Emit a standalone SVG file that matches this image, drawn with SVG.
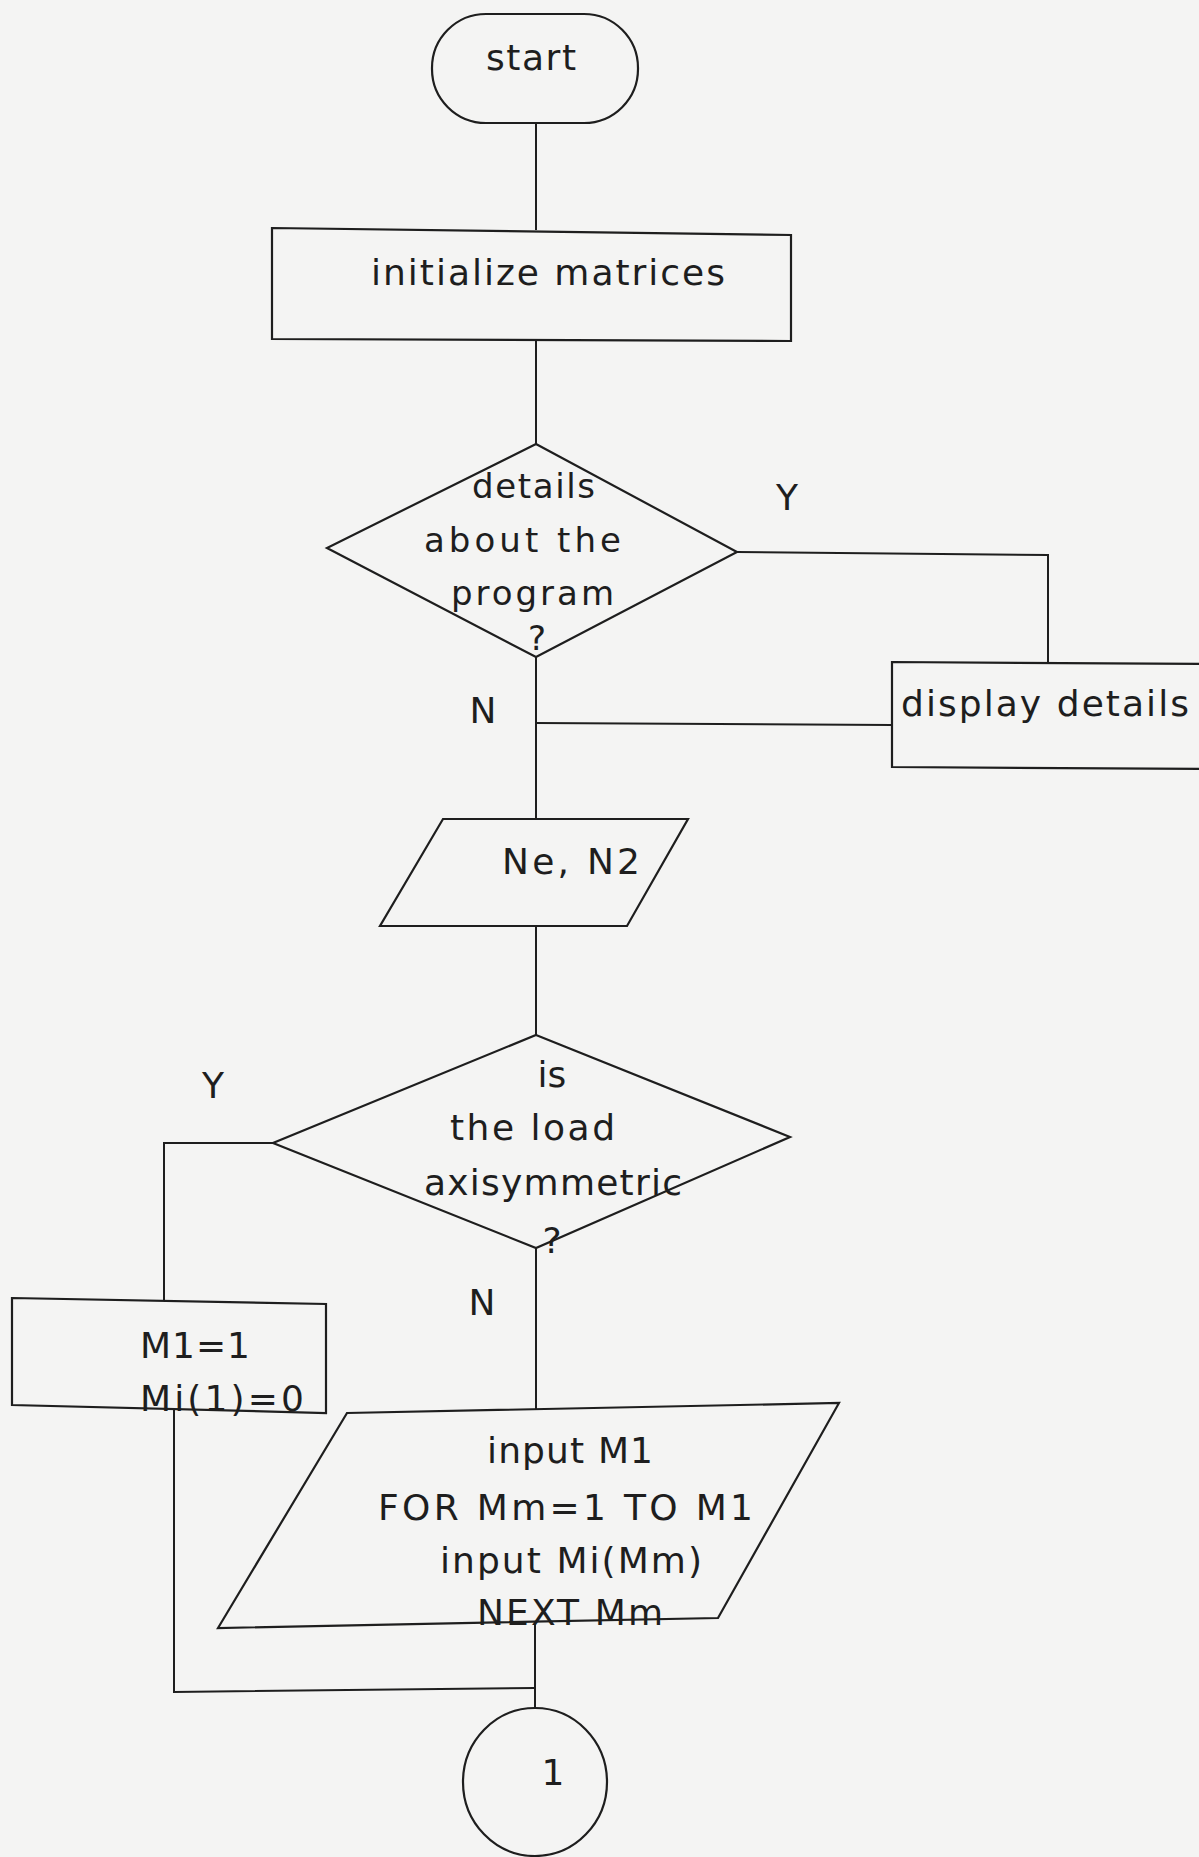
<svg xmlns="http://www.w3.org/2000/svg" width="1199" height="1857" viewBox="0 0 1199 1857">
<style>
.s{fill:none;stroke:#1e1e1e;stroke-width:2.2;stroke-linejoin:miter}
.c{fill:none;stroke:#1e1e1e;stroke-width:2}
text{font-family:"DejaVu Sans","Liberation Sans",sans-serif;fill:#1e1e1e;font-size:36px}
.sm{font-size:34px}
</style>
<rect x="0" y="0" width="1199" height="1857" fill="#f4f4f3"/>
<g id="connectors">
<polyline class="c" points="536,123 536,230"/>
<polyline class="c" points="536,340 536,444"/>
<polyline class="c" points="737,552 1048,555 1048,662"/>
<polyline class="c" points="892,725 536,723"/>
<polyline class="c" points="536,657 536,819"/>
<polyline class="c" points="536,926 536,1035"/>
<polyline class="c" points="273,1143 164,1143 164,1300"/>
<polyline class="c" points="536,1248 536,1409"/>
<polyline class="c" points="174,1410 174,1692 535,1688"/>
<polyline class="c" points="535,1622 535,1708"/>
<text x="787" y="510" text-anchor="middle">Y</text>
<text x="483" y="723" text-anchor="middle">N</text>
<text x="213" y="1098" text-anchor="middle">Y</text>
<text x="482" y="1315" text-anchor="middle">N</text>
</g>
<g id="start">
<rect class="s" x="432" y="14" width="206" height="109" rx="54" ry="54"/>
<text x="486" y="70" textLength="90" lengthAdjust="spacing">start</text>
</g>
<g id="init">
<polygon class="s" points="272,228 791,235 791,341 272,339"/>
<text x="371" y="285" textLength="354" lengthAdjust="spacing">initialize matrices</text>
</g>
<g id="decision1">
<polygon class="s" points="536,444 737,552 536,657 327,548"/>
<text class="sm" x="472" y="498" textLength="123" lengthAdjust="spacing">details</text>
<text class="sm" x="424" y="552" textLength="197" lengthAdjust="spacing">about the</text>
<text class="sm" x="451" y="605" textLength="163" lengthAdjust="spacing">program</text>
<text class="sm" x="537" y="650" text-anchor="middle">?</text>
</g>
<g id="display">
<polygon class="s" points="892,662 1210,664 1210,769 892,767"/>
<text x="901" y="716" textLength="288" lengthAdjust="spacing">display details</text>
</g>
<g id="input1">
<polygon class="s" points="443,819 688,819 627,926 380,926"/>
<text x="502" y="874" textLength="138" lengthAdjust="spacing">Ne, N2</text>
</g>
<g id="decision2">
<polygon class="s" points="536,1035 790,1137 536,1248 273,1143"/>
<text x="552" y="1087" text-anchor="middle">is</text>
<text x="450" y="1140" textLength="165" lengthAdjust="spacing">the load</text>
<text x="424" y="1195" textLength="258" lengthAdjust="spacing">axisymmetric</text>
<text x="552" y="1253" text-anchor="middle">?</text>
</g>
<g id="axisym">
<polygon class="s" points="12,1298 326,1304 326,1413 12,1405"/>
<text x="140" y="1358" textLength="110" lengthAdjust="spacing">M1=1</text>
<text x="140" y="1411" textLength="164" lengthAdjust="spacing">Mi(1)=0</text>
</g>
<g id="input2">
<polygon class="s" points="347,1413 839,1403 718,1618 218,1628"/>
<text x="487" y="1463" textLength="166" lengthAdjust="spacing">input M1</text>
<text x="378" y="1520" textLength="375" lengthAdjust="spacing">FOR Mm=1 TO M1</text>
<text x="440" y="1573" textLength="262" lengthAdjust="spacing">input Mi(Mm)</text>
<text x="477" y="1625" textLength="186" lengthAdjust="spacing">NEXT Mm</text>
</g>
<g id="connector1">
<ellipse class="s" cx="535" cy="1782" rx="72" ry="74"/>
<text x="553" y="1785" text-anchor="middle">1</text>
</g>
</svg>
